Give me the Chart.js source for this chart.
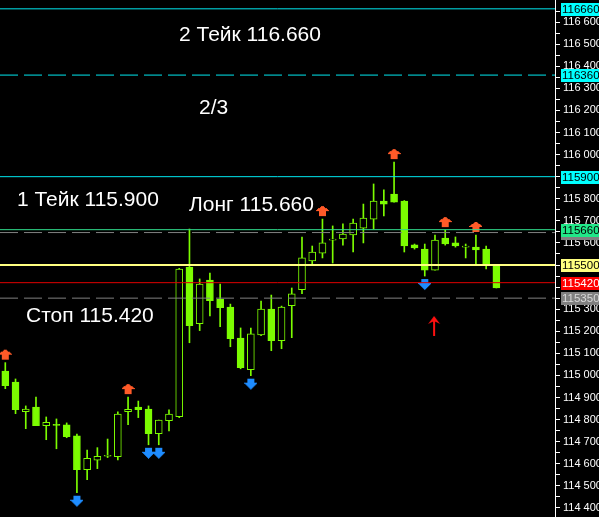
<!DOCTYPE html>
<html><head><meta charset="utf-8">
<script src="https://cdn.jsdelivr.net/npm/chart.js@4/dist/chart.umd.min.js"></script>
<style>html,body{margin:0;padding:0;background:#000;overflow:hidden}canvas{display:block}</style>
</head><body>
<canvas id="c" width="599" height="517"></canvas>
<script>
// ---- data ----
const bars   = [0,1,2,3,4,5,6,7,8,9,10,11,12,13,14,15,16,17,18,19,20,21,22,23,24,25,26,27,28,29,30,31,32,33,34,35,36,37,38,39,40,41,42,43,44,45,46,47,48];
const opens  = [115.020,114.970,114.836,114.857,114.772,114.775,114.776,114.726,114.573,114.616,114.634,114.632,114.836,114.857,114.848,114.736,114.795,114.813,115.491,115.234,115.432,115.346,115.310,115.169,115.026,115.184,115.301,115.157,115.316,115.388,115.518,115.554,115.613,115.618,115.636,115.667,115.708,115.790,115.821,115.790,115.591,115.572,115.477,115.622,115.600,115.581,115.581,115.572,115.500];
const highs  = [115.058,114.984,114.862,114.902,114.812,114.803,114.785,114.735,114.662,114.673,114.712,114.835,114.902,114.884,114.862,114.798,114.844,115.485,115.663,115.437,115.464,115.414,115.323,115.215,115.215,115.337,115.364,115.314,115.396,115.627,115.586,115.708,115.677,115.686,115.708,115.776,115.867,115.840,115.966,115.792,115.595,115.595,115.636,115.658,115.627,115.595,115.636,115.586,115.500];
const lows   = [114.940,114.827,114.759,114.772,114.709,114.668,114.718,114.469,114.528,114.578,114.628,114.618,114.777,114.809,114.686,114.686,114.749,114.809,115.148,115.203,115.270,115.221,115.130,115.030,114.999,115.180,115.112,115.121,115.171,115.370,115.504,115.532,115.509,115.590,115.559,115.600,115.663,115.722,115.785,115.559,115.572,115.450,115.477,115.590,115.581,115.532,115.504,115.482,115.396];
const closes = [114.954,114.845,114.848,114.772,114.788,114.774,114.723,114.573,114.625,114.634,114.635,114.825,114.846,114.845,114.736,114.798,114.825,115.482,115.225,115.414,115.338,115.307,115.166,115.035,115.188,115.301,115.157,115.310,115.369,115.532,115.559,115.600,115.614,115.640,115.690,115.713,115.790,115.776,115.785,115.586,115.577,115.477,115.613,115.595,115.586,115.582,115.568,115.500,115.396];

const upSignalBars   = [0, 12, 31, 38, 43, 46];
const downSignalBars = [7, 14, 15, 24, 41];
const markerBars   = [41.91];
const markerPrices = [115.224];

const levelPrices = [116.660, 116.360, 115.900, 115.660, 115.647, 115.500, 115.420, 115.350];
const levelLabels = ['116660', '116360', '115900', '115660', '115650', '115500', '115420', '115350'];

const noteTexts  = ['2 Тейк 116.660', '2/3', '1 Тейк 115.900', 'Лонг 115.660', 'Стоп 115.420'];
const noteBars   = [16.98, 18.93, 1.14, 17.96, 2.02];
const notePrices = [116.514, 116.184, 115.767, 115.744, 115.242];

const yTickLabels = ['114 400','114 500','114 600','114 700','114 800','114 900','115 000','115 100','115 200','115 300','115 400','115 500','115 600','115 700','115 800','115 900','116 000','116 100','116 200','116 300','116 400','116 500','116 600'];

// ---- styles ----
const LIME = '#7CFC00';
const xMin = -0.518, xMax = 53.73;
const yMin = 114.359, yMax = 116.70;
const levelStyles = [
  {line:'#00E8F0', dash:[],     w:1, box:'#00FFFF', txt:'#000'},
  {line:'#00E8F0', dash:[18,6], w:1, box:'#00FFFF', txt:'#000'},
  {line:'#00E8F0', dash:[],     w:1, box:'#00FFFF', txt:'#000'},
  {line:'#30DC8C', dash:[],     w:1, box:'#20E888', txt:'#000'},
  {line:'#808080', dash:[18,6], w:1, box:'#808080', txt:'#D8D8D8'},
  {line:'#FFFF80', dash:[],     w:2, box:'#FFFF80', txt:'#000'},
  {line:'#E00000', dash:[],     w:1, box:'#FF0000', txt:'#FFF'},
  {line:'#808080', dash:[18,6], w:1, box:'#808080', txt:'#D8D8D8'}
];
const boxOrder = [0,1,2,4,3,5,6,7];

const majorVals = yTickLabels.map(s => parseFloat(s.replace(' ', '.')));
const yTickVals = [];
majorVals.forEach(v => { yTickVals.push(v); const m = Math.round((v + 0.05) * 1000) / 1000; if (m < yMax) yTickVals.push(m); });

// ---- arrow images ----
function makeUp() {
  const c = document.createElement('canvas'); c.width = 13; c.height = 32;
  const g = c.getContext('2d'); g.fillStyle = '#FF5A28';
  const widths = [3,5,9,11,13];
  widths.forEach((w, r) => g.fillRect((13 - w) / 2 | 0, 3 + r, w, 1));
  g.fillRect(3, 8, 7, 5);
  return c;
}
function makeDown() {
  const c = document.createElement('canvas'); c.width = 13; c.height = 32;
  const g = c.getContext('2d'); g.fillStyle = '#1E8CFF';
  g.fillRect(3, 19, 7, 4);
  const widths = [13,11,9,7,5,3,1];
  widths.forEach((w, r) => g.fillRect((13 - w) / 2 | 0, 23 + r, w, 1));
  return c;
}
function makeMarker() {
  const c = document.createElement('canvas'); c.width = 14; c.height = 22;
  const g = c.getContext('2d'); g.fillStyle = '#FF1010';
  g.beginPath(); g.moveTo(7, 1); g.lineTo(1, 9); g.lineTo(7, 6); g.lineTo(13, 9); g.closePath(); g.fill();
  g.fillRect(6, 4, 2, 17);
  return c;
}

const wickData = bars.map((b, i) => ({x: b, y: [lows[i], highs[i]]}));
const bodyData = bars.map((b, i) => ({x: b, y: [opens[i], closes[i]]}));
const upData   = upSignalBars.map(b => ({x: bars[b], y: highs[b]}));
const downData = downSignalBars.map(b => ({x: bars[b], y: lows[b]}));
const markerData = markerBars.map((b, i) => ({x: b, y: markerPrices[i]}));

const levelSets = levelPrices.map((p, k) => ({
  type: 'line', order: 1,
  data: [{x: xMin, y: p}, {x: xMax, y: p}],
  borderColor: levelStyles[k].line, borderWidth: levelStyles[k].w, borderDash: levelStyles[k].dash,
  pointRadius: 0, tension: 0, fill: false
}));

const overlay = {
  id: 'overlay',
  beforeDraw(chart) { const c = chart.ctx; c.save(); c.fillStyle = '#000'; c.fillRect(0, 0, chart.width, chart.height); c.restore(); },
  afterDatasetsDraw(chart) {
    const c = chart.ctx, xs = chart.scales.x, ys = chart.scales.y;
    c.save(); c.fillStyle = '#FFFFFF'; c.font = '21px "Liberation Sans", Arial, sans-serif';
    c.textAlign = 'left'; c.textBaseline = 'alphabetic';
    noteTexts.forEach((t, i) => c.fillText(t, xs.getPixelForValue(noteBars[i]), ys.getPixelForValue(notePrices[i])));
    c.restore();
  },
  afterDraw(chart) {
    const c = chart.ctx, ys = chart.scales.y;
    c.save(); c.font = '11.5px "Liberation Sans", Arial, sans-serif'; c.textBaseline = 'middle'; c.textAlign = 'left';
    boxOrder.forEach(k => {
      const y = Math.round(ys.getPixelForValue(levelPrices[k]));
      c.fillStyle = levelStyles[k].box; c.fillRect(561, y - 6, 40, 13);
      c.fillStyle = levelStyles[k].txt; c.fillText(levelLabels[k], 562, y + 1);
    });
    c.restore();
  }
};

new Chart(document.getElementById('c'), {
  type: 'bar',
  data: {
    datasets: [
      ...levelSets,
      {type: 'scatter', order: 2, data: upData, pointStyle: makeUp(), pointRadius: 5},
      {type: 'scatter', order: 2, data: downData, pointStyle: makeDown(), pointRadius: 5},
      {type: 'scatter', order: 2, data: markerData, pointStyle: makeMarker(), pointRadius: 5},
      {type: 'bar', order: 3, data: bodyData, grouped: false, barThickness: 7, minBarLength: 1,
       backgroundColor: ctx => (closes[ctx.dataIndex] >= opens[ctx.dataIndex] ? '#000000' : LIME),
       borderColor: LIME, borderWidth: 1, borderSkipped: false},
      {type: 'bar', order: 4, data: wickData, grouped: false, barThickness: 1, backgroundColor: LIME, borderWidth: 0}
    ]
  },
  options: {
    responsive: false, animation: false, events: [],
    layout: {padding: 0, autoPadding: false},
    plugins: {legend: {display: false}, tooltip: {enabled: false}},
    scales: {
      x: {type: 'linear', min: xMin, max: xMax, offset: false, display: false},
      y: {
        type: 'linear', position: 'right', min: yMin, max: yMax,
        afterBuildTicks: axis => { axis.ticks = yTickVals.map(v => ({value: v})); },
        afterFit: axis => { axis.width = 44; axis.paddingTop = 0; axis.paddingBottom = 0; },
        grid: {drawOnChartArea: false, drawTicks: true, tickLength: 5, color: '#FFFFFF'},
        border: {display: true, color: '#FFFFFF', width: 1},
        ticks: {
          color: '#FFFFFF', padding: 3, autoSkip: false,
          font: {family: '"Liberation Sans", Arial, sans-serif', size: 11},
          callback: v => { const k = majorVals.findIndex(m => Math.abs(m - v) < 1e-6); return k >= 0 ? yTickLabels[k] : ''; }
        }
      }
    }
  },
  plugins: [overlay]
});
</script>
</body></html>
